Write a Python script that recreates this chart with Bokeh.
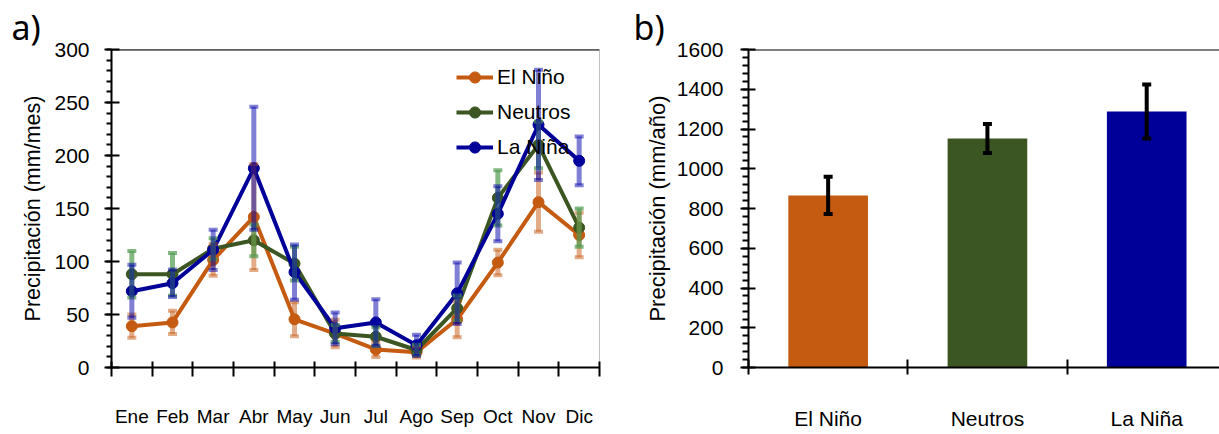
from bokeh.plotting import figure
from bokeh.layouts import row
from bokeh.models import FixedTicker, SingleIntervalTicker, Span
from bokeh.embed import file_html
from bokeh.resources import INLINE

# ---------------- data ----------------
months = ["Ene", "Feb", "Mar", "Abr", "May", "Jun", "Jul", "Ago", "Sep", "Oct", "Nov", "Dic"]
nino = [39, 42.5, 101.5, 142, 45.5, 32, 17, 14.5, 45.5, 99, 156, 125]
nino_err = [11, 11, 15, 50, 16, 13, 7, 5, 17, 12, 28, 21]
neutros = [88, 88, 112, 120, 98, 32, 29, 16.5, 56, 160, 210, 132]
neutros_err = [22, 20, 10, 15, 16, 8, 9, 5, 12, 26, 22, 18]
nina = [72, 79.5, 111, 188, 90, 37, 42.5, 21, 70, 145, 229, 195]
nina_err = [25, 13, 19, 58, 26, 15, 22, 10, 29, 26, 52, 23]

phases = ["El Niño", "Neutros", "La Niña"]
annual = [866, 1152, 1288]
annual_err = [94, 73, 136]

colors = ["#C55A11", "#3B5623", "#000099"]
err_colors = ["#C55A11", "#4E9A4E", "#0000AA"]
err_alpha = [0.5, 0.7, 0.5]

FONT = "Liberation Sans, Arial"

def style_axes(p):
    for ax in list(p.xaxis) + list(p.yaxis):
        ax.axis_line_color = "black"
        ax.axis_line_width = 2
        ax.major_tick_line_color = "black"
        ax.major_tick_line_width = 2
        ax.minor_tick_line_color = "black"
        ax.minor_tick_line_width = 2
        ax.major_label_text_font = FONT
        ax.major_label_text_font_size = "21px"
        ax.major_label_text_color = "black"
        ax.axis_label_text_font = FONT
        ax.axis_label_text_font_size = "21.5px"
        ax.axis_label_text_font_style = "normal"
        ax.axis_label_text_color = "black"
    p.xgrid.visible = False
    p.ygrid.visible = False

def style_title(p, offset):
    p.title.align = "left"
    p.title.offset = offset
    p.title.standoff = 0
    p.title.text_font = "Noto Sans"
    p.title.text_font_size = "34px"
    p.title.text_font_style = "normal"
    p.title.text_color = "black"

# ---------------- panel a ----------------
xs = [i + 0.5 for i in range(len(months))]

p1 = figure(width=620, height=432, x_range=(0, 12), y_range=(0, 300),
            output_backend="svg", toolbar_location=None, title="a)",
            min_border_left=111, min_border_right=21,
            min_border_top=49, min_border_bottom=44)
p1.outline_line_color = "#c0c0c0"
p1.outline_line_width = 1
style_title(p1, -100)

series = [(nino, nino_err, "El Niño"), (neutros, neutros_err, "Neutros"), (nina, nina_err, "La Niña")]
for (vals, errs, name), c in zip(series, colors):
    p1.line(xs, vals, line_color=c, line_width=4, legend_label=name)
    p1.scatter(xs, vals, marker="circle", size=11, fill_color=c, line_color=c, legend_label=name)

for (vals, errs, name), c, a in zip(series, err_colors, err_alpha):
    lo = [v - e for v, e in zip(vals, errs)]
    hi = [v + e for v, e in zip(vals, errs)]
    p1.segment(xs, lo, xs, hi, line_color=c, line_alpha=a, line_width=5)
    p1.scatter(xs, hi, marker="dash", size=9, line_color=c, line_alpha=a, line_width=4)
    p1.scatter(xs, lo, marker="dash", size=9, line_color=c, line_alpha=a, line_width=4)

p1.add_layout(Span(location=300, dimension="width", line_color="black", line_width=2))

p1.yaxis.ticker = SingleIntervalTicker(interval=50, num_minor_ticks=5)
p1.xaxis.ticker = FixedTicker(ticks=xs, minor_ticks=list(range(13)))
p1.xaxis.major_label_overrides = {x: m for x, m in zip(xs, months)}
p1.yaxis.axis_label = "Precipitación (mm/mes)"
style_axes(p1)
p1.xaxis.major_label_text_font_size = "19px"
p1.yaxis.major_tick_in = 8
p1.yaxis.major_tick_out = 7
p1.yaxis.minor_tick_in = 0
p1.yaxis.minor_tick_out = 5
p1.yaxis.major_label_standoff = 15
p1.yaxis.axis_label_standoff = 6
p1.xaxis.major_tick_in = 0
p1.xaxis.major_tick_out = 0
p1.xaxis.minor_tick_in = 6
p1.xaxis.minor_tick_out = 9
p1.xaxis.major_label_standoff = 29

lg = p1.legend[0]
lg.location = (345, 206)
lg.border_line_color = None
lg.background_fill_alpha = 0
lg.padding = 0
lg.margin = 0
lg.glyph_width = 37
lg.glyph_height = 28
lg.label_height = 28
lg.spacing = 7
lg.label_standoff = 4
lg.label_text_font = FONT
lg.label_text_font_size = "21px"
lg.label_text_color = "black"

# ---------------- panel b ----------------
bx = [i + 0.5 for i in range(len(phases))]
p2 = figure(width=599, height=432, x_range=(0, 2.957), y_range=(0, 1600),
            output_backend="svg", toolbar_location=None, title="b)",
            min_border_left=128, min_border_right=0,
            min_border_top=49, min_border_bottom=41)
p2.outline_line_color = None
style_title(p2, -115)

p2.vbar(x=bx, top=annual, width=0.5, fill_color=colors, line_color=None)
blo = [v - e for v, e in zip(annual, annual_err)]
bhi = [v + e for v, e in zip(annual, annual_err)]
p2.segment(bx, blo, bx, bhi, line_color="black", line_width=4)
p2.scatter(bx, bhi, marker="dash", size=9, line_color="black", line_width=4)
p2.scatter(bx, blo, marker="dash", size=9, line_color="black", line_width=4)

p2.add_layout(Span(location=1600, dimension="width", line_color="black", line_width=2))

p2.yaxis.ticker = SingleIntervalTicker(interval=200, num_minor_ticks=5)
p2.xaxis.ticker = FixedTicker(ticks=bx, minor_ticks=[0, 1, 2, 3])
p2.xaxis.major_label_overrides = {x: n for x, n in zip(bx, phases)}
p2.yaxis.axis_label = "Precipitación (mm/año)"
style_axes(p2)
p2.yaxis.axis_label_text_font_size = "22px"
p2.yaxis.major_tick_in = 7
p2.yaxis.major_tick_out = 8
p2.yaxis.minor_tick_in = 0
p2.yaxis.minor_tick_out = 6
p2.yaxis.major_label_standoff = 17
p2.yaxis.axis_label_standoff = 4
p2.xaxis.major_tick_in = 0
p2.xaxis.major_tick_out = 0
p2.xaxis.minor_tick_in = 8
p2.xaxis.minor_tick_out = 7
p2.xaxis.major_label_standoff = 32

layout = row(p1, p2)
open("out.html", "w").write(file_html(layout, INLINE))
